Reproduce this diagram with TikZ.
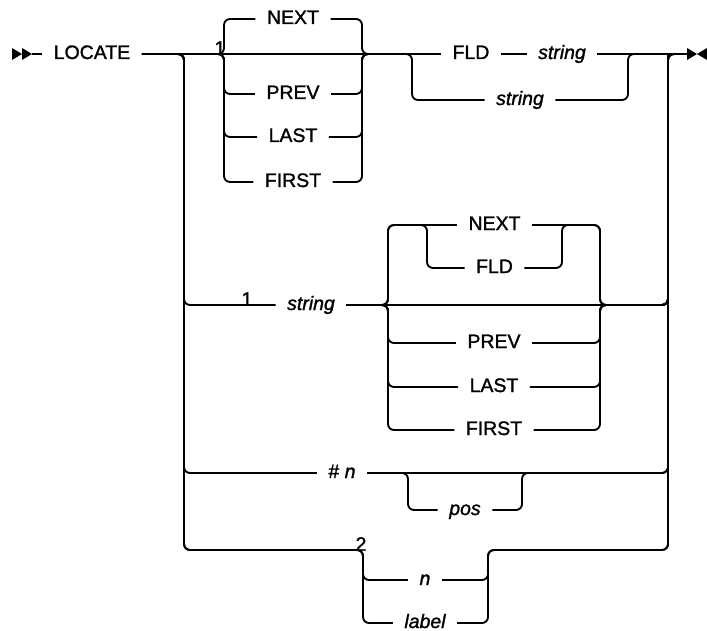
\documentclass[tikz,border=0pt]{standalone}
\usepackage{fontspec}
\setmainfont{Liberation Sans}[RawFeature={embolden=1.4}]
\usetikzlibrary{positioning}
\newcommand{\railfont}{\fontsize{14.6}{17}\selectfont}
\tikzset{
  kw/.style={font=\railfont, inner xsep=8.5pt, inner ysep=1pt,
             text height=10.5pt, text depth=3pt},
  var/.style={kw, font=\railfont\itshape},
  note/.style={font=\railfont, inner sep=0pt, anchor=south},
  track/.style={line width=1.4pt, rounded corners=4.5pt},
}

\begin{document}
\begin{tikzpicture}[x=0.75pt, y=-0.75pt]
\useasboundingbox (0,0) rectangle (707,631);
% junctions
\coordinate (st) at (32,54);
\coordinate (en) at (687,54);
\coordinate (sp) at (184,54);
\coordinate (jn) at (668,54);
\coordinate (aL) at (224,54);
\coordinate (aR) at (362,54);
\coordinate (bL) at (412,54);
\coordinate (bR) at (628,54);
\coordinate (cL) at (388,305);
\coordinate (cR) at (600,305);
\coordinate (dL) at (427,225);
\coordinate (dR) at (562,225);
\coordinate (eL) at (408,473);
\coordinate (eR) at (522,473);
\coordinate (fL) at (363,550);
\coordinate (fR) at (488,550);
% keywords and variables
\node[kw] (locate) at (92,54) {LOCATE};
\node[kw] (next1) at (293,19) {NEXT};
\node[kw] (prev1) at (293,94) {PREV};
\node[kw] (last1) at (293,137) {LAST};
\node[kw] (first1) at (293,182) {FIRST};
\node[kw] (fld1) at (471,54) {FLD};
\node[var] (str1a) at (562,54) {string};
\node[var] (str1b) at (520,100) {string};
\node[var] (str2) at (311,305) {string};
\node[kw] (next2) at (494.5,225) {NEXT};
\node[kw] (fld2) at (494.5,268) {FLD};
\node[kw] (prev2) at (494,343) {PREV};
\node[kw] (last2) at (494,387) {LAST};
\node[kw] (first2) at (494,430) {FIRST};
\node[kw] (num) at (342,473) {\#~\textit{n}};
\node[var] (pos) at (465,510) {pos};
\node[var] (n4) at (425,580) {n};
\node[var] (label4) at (425,623) {label};
\node[note] (one1) at (220,55) {1};
\node[note] (one2) at (247,306) {1};
\node[note] (two) at (361,551) {2};
% start and end marks
\fill (12,48) -- (22,54) -- (12,60) -- cycle (22,48) -- (32,54) -- (22,60) -- cycle;
\fill (687,48) -- (697,54) -- (687,60) -- cycle (707,48) -- (697,54) -- (707,60) -- cycle;
% main line
\draw[track] (st) -- (locate.west);
\draw[track] (locate.east) -- (fld1.west);
\draw[track] (fld1.east) -- (str1a.west);
\draw[track] (str1a.east) -- (en);
% first choice
\draw[track] (sp) -- (aL) |- (next1.west);
\draw[track] (next1.east) -| (aR) -- (bL);
\foreach \w in {prev1,last1,first1} {
  \draw[track] (sp) -- (aL) |- (\w.west);
  \draw[track] (\w.east) -| (aR) -- (bL);
}
\draw[track] (aR) -- (bL) |- (str1b.west);
\draw[track] (str1b.east) -| (bR) -- (jn);
% second row
\draw[track] (locate.east) -- (sp) |- (str2.west);
\draw[track] (str2.east) -- (cR) -| (jn) -- (en);
\draw[track] (str2.east) -- (cL) |- (dL) -- (next2.west);
\draw[track] (next2.east) -- (dR) -| (cR) -| (jn);
\draw[track] (str2.east) -- (cL) |- (dL) |- (fld2.west);
\draw[track] (fld2.east) -| (dR) -| (cR) -| (jn);
\foreach \w in {prev2,last2,first2} {
  \draw[track] (str2.east) -- (cL) |- (\w.west);
  \draw[track] (\w.east) -| (cR) -| (jn);
}
% third row
\draw[track] (locate.east) -- (sp) |- (num.west);
\draw[track] (num.east) -| (jn) -- (en);
\draw[track] (num.east) -- (eL) |- (pos.west);
\draw[track] (pos.east) -| (eR) -| (jn);
% fourth row
\draw[track] (locate.east) -- (sp) |- (fL) |- (n4.west);
\draw[track] (locate.east) -- (sp) |- (fL) |- (label4.west);
\draw[track] (n4.east) -| (fR) -| (jn) -- (en);
\draw[track] (label4.east) -| (fR) -| (jn);
\end{tikzpicture}
\end{document}
